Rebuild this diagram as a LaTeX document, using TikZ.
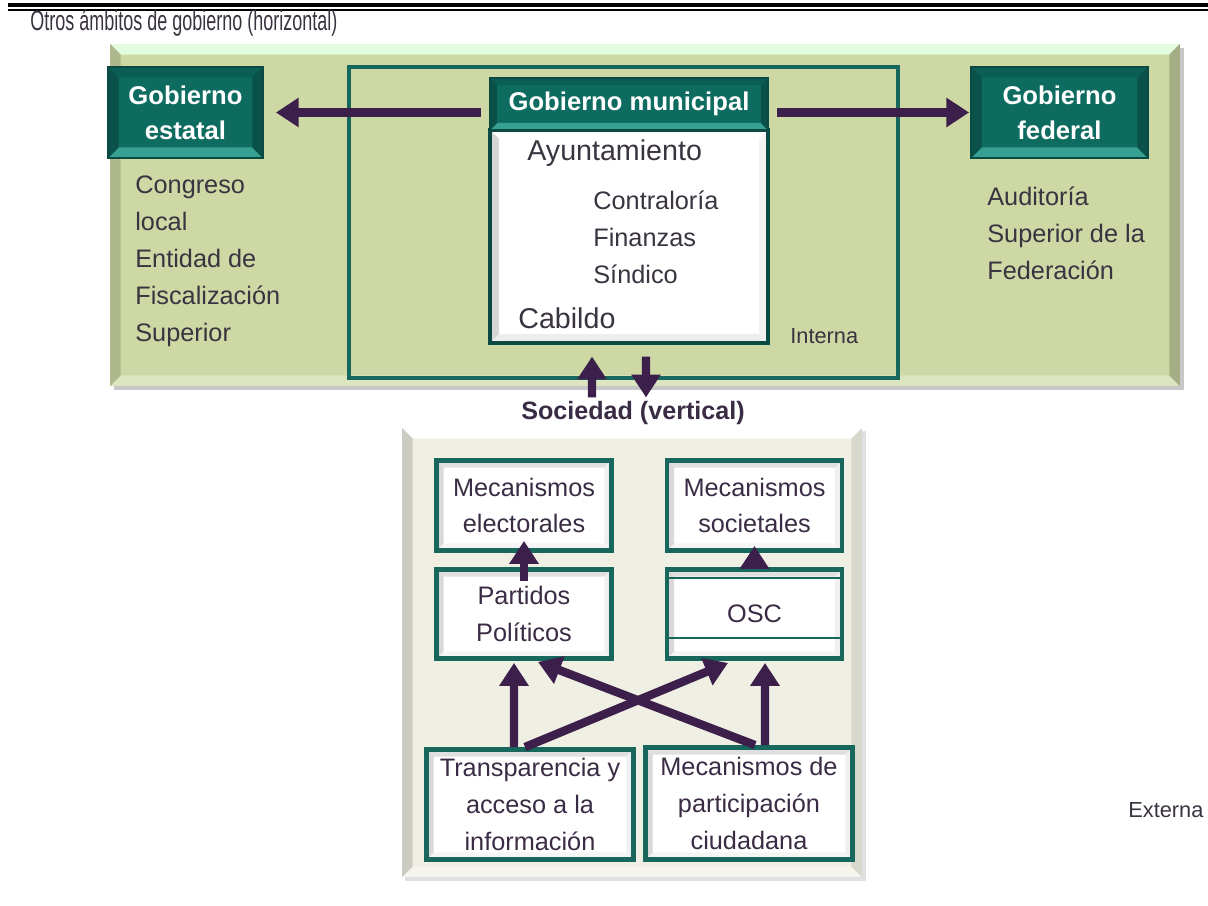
\documentclass[tikz,border=0pt]{standalone}
\usepackage{fontspec}
\setmainfont{Liberation Sans}
\newfontfamily\narrowfont[FakeStretch=0.64]{Liberation Sans}
\usetikzlibrary{arrows.meta}

\definecolor{tealmain}{HTML}{0D6B60}
\definecolor{tealtop}{HTML}{0B5E55}
\definecolor{tealbot}{HTML}{36A092}
\definecolor{tealside}{HTML}{095149}
\definecolor{tealedge}{HTML}{0A4A43}
\definecolor{tealline}{HTML}{17675D}
\definecolor{arrowpurple}{HTML}{3D1F4B}
\definecolor{panelgreen}{HTML}{CDD8A5}
\definecolor{panelcream}{HTML}{EFEFE3}
\definecolor{inkgrey}{HTML}{3A3340}
\definecolor{inkpurple}{HTML}{3B2C45}

\tikzset{
  bevel/.style n args={5}{path picture={
      \fill[#2] (path picture bounding box.north west) -- (path picture bounding box.north east)
        -- ([shift={(-#1,-#1)}]path picture bounding box.north east)
        -- ([shift={(#1,-#1)}]path picture bounding box.north west) -- cycle;
      \fill[#3] (path picture bounding box.south west) -- (path picture bounding box.south east)
        -- ([shift={(-#1,#1)}]path picture bounding box.south east)
        -- ([shift={(#1,#1)}]path picture bounding box.south west) -- cycle;
      \fill[#4] (path picture bounding box.north west) -- (path picture bounding box.south west)
        -- ([shift={(#1,#1)}]path picture bounding box.south west)
        -- ([shift={(#1,-#1)}]path picture bounding box.north west) -- cycle;
      \fill[#5] (path picture bounding box.north east) -- (path picture bounding box.south east)
        -- ([shift={(-#1,#1)}]path picture bounding box.south east)
        -- ([shift={(-#1,-#1)}]path picture bounding box.north east) -- cycle;
  }},
  govbox/.style={rectangle, draw=tealedge, line width=1pt, fill=tealmain, text=white,
    align=center, inner sep=0pt, font=\bfseries\fontsize{14.6}{20}\selectfont,
    bevel={6pt}{tealtop}{tealbot}{tealside}{tealside}},
  whitebox/.style={rectangle, draw=tealline, line width=2.8pt, fill=white, text=inkpurple,
    align=center, inner sep=0pt, font=\fontsize{14.4}{21}\selectfont,
    bevel={4pt}{black!12}{black!4}{black!15}{black!6}},
  bodytext/.style={text=inkgrey, align=left, inner sep=0pt, font=\fontsize{14.4}{21}\selectfont},
  flow/.style={draw=arrowpurple, line width=4.8pt, -{Triangle[width=16pt,length=13pt]}},
}

\begin{document}
\begin{tikzpicture}[x=0.02cm, y=-0.02cm]
  \useasboundingbox[fill=white] (0,0) rectangle (1208,906);
  % rules at the top of the page
  \draw[line width=2.4pt] (8,5.3) -- (1208,5.3);
  \draw[line width=1.2pt] (8,10) -- (1208,10);
  \node[anchor=west, inner sep=0pt, text=inkgrey, font=\narrowfont\fontsize{16}{18}\selectfont]
    (titulo) at (30,23) {Otros ámbitos de gobierno (horizontal)};

  % horizontal panel
  \fill[black!22] (114,48) rectangle (1184,390);
  \node[rectangle, fill=panelgreen, minimum width=21.4cm, minimum height=6.84cm, inner sep=0pt,
    bevel={6pt}{green!10!white!90!panelgreen}{panelgreen!70!white}{panelgreen!85!black}{panelgreen!80!black}]
    (horiz) at (645,215) {};
  \node[rectangle, draw=tealline, line width=2.3pt, minimum width=10.98cm, minimum height=6.22cm]
    (intframe) at (623.5,222.5) {};
  \node[bodytext, font=\fontsize{12.4}{15}\selectfont, anchor=west] (interna) at (790,336) {Interna};

  % government boxes
  \node[govbox, minimum width=3.1cm, minimum height=1.82cm] (estatal) at (185.5,112.5)
    {Gobierno\\estatal};
  \node[govbox, minimum width=3.54cm, minimum height=1.82cm] (federal) at (1059.5,112.5)
    {Gobierno\\federal};
  \node[rectangle, draw=tealedge, line width=1.8pt, fill=white, minimum width=5.56cm,
    minimum height=4.26cm, bevel={5pt}{white}{black!7}{black!16}{black!5}]
    (mbody) at (629,236.5) {};
  \node[govbox, minimum width=5.56cm, minimum height=1.04cm, bevel={4pt}{tealtop}{tealbot}{tealside}{tealside}]
    (mhead) at (629,104) {Gobierno municipal};

  \node[bodytext, anchor=west] (estataltxt) at (135,261)
    {Congreso\\local\\Entidad de\\Fiscalización\\Superior};
  \node[bodytext, anchor=west] (federaltxt) at (987,233)
    {Auditoría\\Superior de la\\Federación};
  \node[bodytext, anchor=west, font=\fontsize{16.3}{21}\selectfont] (ayunt) at (527,153) {Ayuntamiento};
  \node[bodytext, anchor=west] (areas) at (593,237) {Contraloría\\Finanzas\\Síndico};
  \node[bodytext, anchor=west, font=\fontsize{16.3}{21}\selectfont] (cabildo) at (518,318) {Cabildo};

  \draw[flow, shorten <=0.16cm, shorten >=0.24cm] (mhead.west |- estatal) -- (estatal.east);
  \draw[flow, shorten <=0.16cm, shorten >=0.02cm] (mhead.east |- federal) -- (federal.west);

  % society panel
  \node[inner sep=2pt, text=inkpurple, font=\bfseries\fontsize{14.3}{17}\selectfont]
    (soclabel) at (633,413) {Sociedad (vertical)};
  \draw[flow, shorten >=0.24cm] ([xshift=-0.82cm]soclabel.north) -- ([xshift=-0.74cm]mbody.south);
  \draw[flow, shorten <=0.24cm] ([xshift=0.34cm]mbody.south) -- ([xshift=0.26cm]soclabel.north);

  \fill[black!12] (405,431) rectangle (866,881);
  \node[rectangle, fill=panelcream, minimum width=9.2cm, minimum height=8.98cm, inner sep=0pt,
    bevel={6pt}{white}{panelcream!60!white}{panelcream!85!black}{panelcream!90!black}]
    (socpanel) at (632,652.5) {};

  \node[whitebox, minimum width=3.5cm, minimum height=1.8cm] (elect) at (524,505.5)
    {Mecanismos\\electorales};
  \node[whitebox, minimum width=3.5cm, minimum height=1.8cm] (soc) at (754.5,505.5)
    {Mecanismos\\societales};
  \node[whitebox, minimum width=3.5cm, minimum height=1.78cm] (partidos) at (524,614)
    {Partidos\\Políticos};
  \node[whitebox, minimum width=3.5cm, minimum height=1.78cm] (osc) at (754.5,614) {OSC};
  \draw[tealline, line width=1.2pt] ([yshift=-0.22cm]osc.north west) -- ([yshift=-0.22cm]osc.north east);
  \draw[tealline, line width=1.2pt] ([yshift=0.46cm]osc.south west) -- ([yshift=0.46cm]osc.south east);
  \node[whitebox, minimum width=4.14cm, minimum height=2.2cm] (transp) at (530,804.5)
    {Transparencia y\\acceso a la\\información};
  \node[whitebox, minimum width=4.14cm, minimum height=2.24cm] (partic) at (749,803.5)
    {Mecanismos de\\participación\\ciudadana};

  \draw[flow, shorten <=-0.28cm, shorten >=-0.24cm] (partidos.north) -- (elect.south);
  \draw[flow, shorten <=-0.3cm, shorten >=-0.14cm] (osc.north) -- (soc.south);
  \draw[flow] ([xshift=-0.32cm]transp.north) -- ([xshift=-0.2cm,yshift=-0.04cm]partidos.south);
  \draw[flow] ([xshift=0.32cm]partic.north) -- ([xshift=0.21cm,yshift=-0.04cm]osc.south);
  \draw[flow] ([xshift=-0.1cm]transp.north) -- ([xshift=-0.53cm,yshift=-0.04cm]osc.south);
  \draw[flow] ([xshift=0.12cm]partic.north) -- ([xshift=0.28cm,yshift=-0.02cm]partidos.south);

  \node[bodytext, font=\fontsize{12.4}{15}\selectfont, anchor=west] (externa) at (1128,810) {Externa};
\end{tikzpicture}
\end{document}
